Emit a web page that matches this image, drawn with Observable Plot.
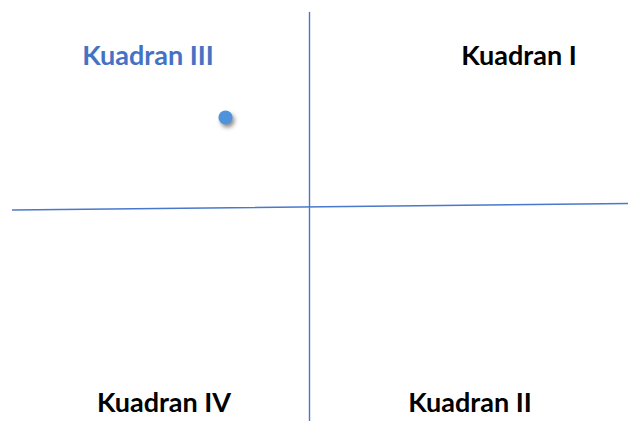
<!DOCTYPE html>
<html>
<head>
<meta charset="utf-8">
<script src="https://cdn.jsdelivr.net/npm/d3@7"></script>
<script src="https://cdn.jsdelivr.net/npm/@observablehq/plot@0.6"></script>
<style>
  html, body { margin: 0; padding: 0; background: #fff; }
  #chart svg { display: block; }
</style>
</head>
<body>
<div id="chart"></div>
<script>
// Coordinate system: origin at the axes' crossing
const axisH = [{x: -297, y: -3.5}, {x: 319, y: 3}];
const axisV = [{x: 0, y: 194}, {x: 0, y: -215}];
const points = [{x: -84, y: 89}];
const labels = ["Kuadran III", "Kuadran I", "Kuadran IV", "Kuadran II"];
const labelX = [-161.5, 209.5, -145.5, 160.5];
const labelY = [150, 150, -197, -197];
const labelColor = ["#4472C4", "#000000", "#000000", "#000000"];
const labelData = labels.map((t, i) => ({text: t, x: labelX[i], y: labelY[i], c: labelColor[i]}));

const plot = Plot.plot({
  width: 628,
  height: 421,
  margin: 0,
  x: {domain: [-309, 319], axis: null},
  y: {domain: [-215, 206], axis: null},
  style: {background: "#fff"},
  marks: [
    Plot.line(axisH, {x: "x", y: "y", stroke: "#4a78cc", strokeWidth: 1.4}),
    Plot.line(axisV, {x: "x", y: "y", stroke: "#4a78cc", strokeWidth: 1.4}),
    Plot.dot(points, {x: "x", y: "y", r: 7, fill: "#4f93dc", stroke: "none"}),
    Plot.text(labelData, {x: "x", y: "y", text: "text", fill: "c",
      fontFamily: "Lato", fontWeight: "bold", fontSize: 27, textAnchor: "middle"})
  ]
});
d3.select(plot).selectAll("circle").style("filter", "drop-shadow(2px 3px 2px rgba(0,0,0,0.45))");
document.getElementById("chart").appendChild(plot);
</script>
</body>
</html>
